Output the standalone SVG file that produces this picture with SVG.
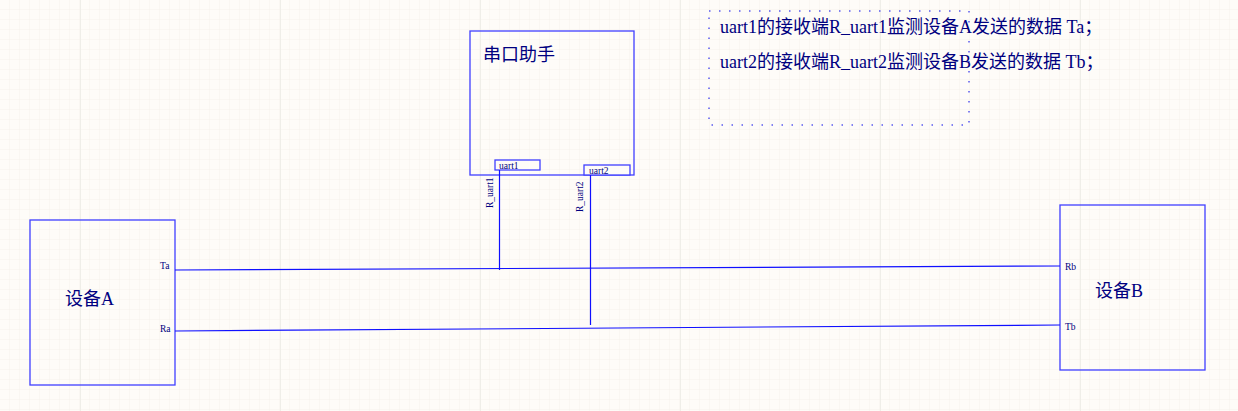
<svg xmlns="http://www.w3.org/2000/svg" width="1238" height="411" viewBox="0 0 1238 411">
<defs>
<pattern id="grid" width="10" height="10" patternUnits="userSpaceOnUse">
<path d="M10 0V10M0 10H10" fill="none" stroke="#f6f2ec" stroke-width="1"/>
</pattern>
<pattern id="major" x="80" width="200" height="10" patternUnits="userSpaceOnUse">
<path d="M0.5 0V10" fill="none" stroke="#efeee8" stroke-width="1"/>
</pattern>
<style>
.box{fill:none;stroke:#4040ff;stroke-width:1.3}
.wire{fill:none;stroke:#1010ff;stroke-width:1.2}
.t{font-family:"Liberation Serif","Noto Sans CJK SC",serif;fill:#000080}
.cjk{font-family:"Noto Sans CJK SC","Liberation Sans",sans-serif}
.big{font-size:18px}
.sm{font-size:9.5px}
.dot{fill:none;stroke:#5a5aee;stroke-width:1.5;stroke-dasharray:1.5 8.5}
</style>
</defs>
<rect width="1238" height="411" fill="#fefcf8"/>
<rect width="1238" height="411" fill="url(#grid)"/>
<rect width="1238" height="411" fill="url(#major)"/>

<g id="note">
<rect class="dot" x="709" y="11" width="260" height="114"/>
<text class="t big" x="720" y="33">uart1<tspan class="cjk">的接收端</tspan>R_uart1<tspan class="cjk">监测设备</tspan>A<tspan class="cjk">发送的数据</tspan> Ta；</text>
<text class="t big" x="720" y="68">uart2<tspan class="cjk">的接收端</tspan>R_uart2<tspan class="cjk">监测设备</tspan>B<tspan class="cjk">发送的数据</tspan> Tb；</text>
</g>

<g id="serial">
<rect class="box" x="470" y="31" width="164" height="144"/>
<text class="t big cjk" x="483" y="61">串口助手</text>
<rect class="box" x="495" y="160" width="45" height="10" style="fill:#fefcf8"/>
<text class="t sm" x="499" y="168.5">uart1</text>
<rect class="box" x="584" y="165" width="46" height="10" style="fill:#fefcf8"/>
<text class="t sm" x="589" y="174">uart2</text>
<text class="t sm" transform="translate(493,208) rotate(-90)">R_uart1</text>
<text class="t sm" transform="translate(583,212) rotate(-90)">R_uart2</text>
</g>

<g id="devA">
<rect class="box" x="30" y="220" width="145" height="165"/>
<text class="t big" x="65" y="305"><tspan class="cjk">设备</tspan>A</text>
<text class="t sm" x="160" y="269">Ta</text>
<text class="t sm" x="160" y="332">Ra</text>
</g>

<g id="devB">
<rect class="box" x="1060" y="205" width="145" height="165"/>
<text class="t big" x="1095" y="297"><tspan class="cjk">设备</tspan>B</text>
<text class="t sm" x="1065" y="270">Rb</text>
<text class="t sm" x="1065" y="330">Tb</text>
</g>

<g id="connectors">
<line class="wire" x1="175" y1="270" x2="1060" y2="266"/>
<line class="wire" x1="175" y1="331" x2="1060" y2="325"/>
<line class="wire" x1="499.5" y1="170" x2="499.5" y2="270"/>
<line class="wire" x1="590.5" y1="175" x2="590.5" y2="325"/>
</g>
</svg>
